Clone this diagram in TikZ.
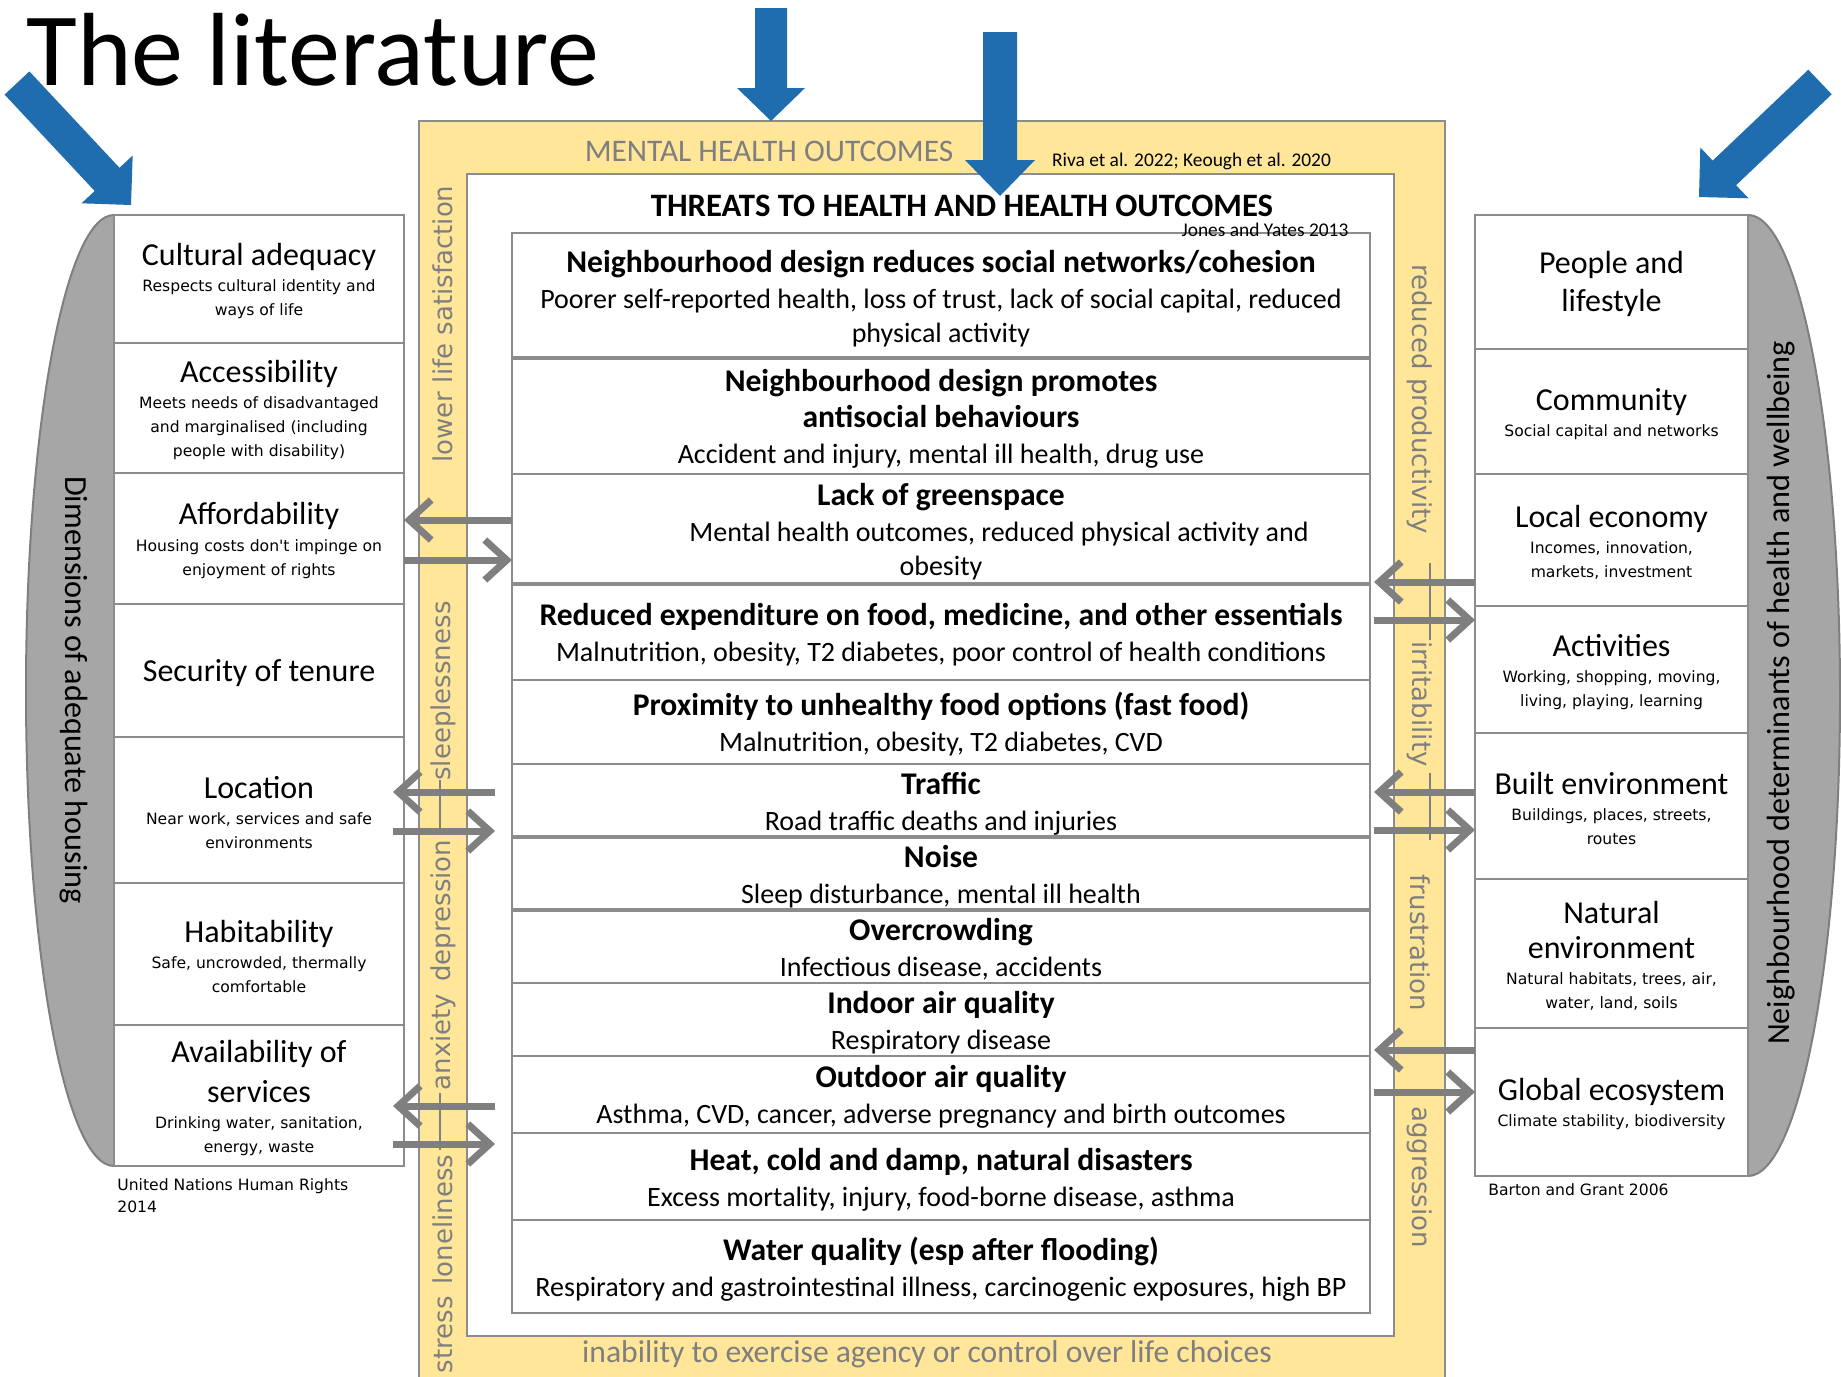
\documentclass[tikz,border=0pt]{standalone}
\usepackage{fontspec}
\setmainfont{Carlito}
\newfontfamily\descfont{DejaVu Sans}
\usetikzlibrary{positioning, arrows.meta}

\definecolor{bandyellow}{RGB}{255,230,153}
\definecolor{linegray}{RGB}{140,140,140}
\definecolor{textgray}{RGB}{127,127,127}
\definecolor{shapegray}{RGB}{166,166,166}
\definecolor{shapeedge}{RGB}{127,127,127}
\definecolor{arrowgray}{RGB}{127,127,127}
\definecolor{arrowblue}{RGB}{31,108,175}

\newcommand\sidehead[1]{{\rmfamily\fontsize{16}{19}\selectfont\rule{0pt}{13.4pt}#1}}
\newcommand\sidetitle[1]{{\rmfamily\fontsize{16}{19}\selectfont #1}}
\newcommand\threathead[1]{{\rmfamily\bfseries\fontsize{15.8}{17}\selectfont\rule{0pt}{14.1pt}#1}}
\newcommand\threattitle[1]{{\rmfamily\bfseries\fontsize{15.8}{17}\selectfont #1}}

\begin{document}
\begin{tikzpicture}[x=0.5pt, y=-0.5pt, node distance=0pt,
    threat/.style={draw=linegray, line width=1pt, fill=white, minimum width=429pt, inner sep=0pt, outer sep=0pt, align=center, font=\fontsize{14}{17}\selectfont},
    side/.style={draw=linegray, line width=1pt, fill=white, minimum width=145pt, inner sep=0pt, outer sep=0pt, align=center, font=\descfont\fontsize{7.8}{12}\selectfont},
    rside/.style={side, minimum width=136.5pt},
    band/.style={text=textgray, font=\descfont\fontsize{13}{15}\selectfont},
    garrow/.style={draw=arrowgray, line width=3.5pt, -{Straight Barb[length=11pt, width=20pt]}},
    bluearrow/.style={fill=arrowblue}]
    \useasboundingbox (0,0) rectangle (1841,1376);
    \clip (0,0) rectangle (1841,1376);

    \draw[linegray, line width=1pt, fill=bandyellow] (419,121) rectangle (1445,1400);
    \draw[linegray, line width=1pt, fill=white] (467,174) rectangle (1394,1336);

    \node[text=textgray, font=\fontsize{15.7}{18}\selectfont] (mho) at (769,151) {MENTAL HEALTH OUTCOMES};
    \node[font=\fontsize{9.7}{11}\selectfont] (riva) at (1191.5,161) {Riva et al. 2022; Keough et al. 2020};
    \node[inner sep=0pt, font=\bfseries\fontsize{16.35}{19}\selectfont] (threats) at (962,206) {THREATS TO HEALTH AND HEALTH OUTCOMES};
    \node[text=textgray, font=\fontsize{15.8}{18}\selectfont] (agency) at (927,1354) {inability to exercise agency or control over life choices};

    \node[band, rotate=90]  (lls)    at (443,324)  {lower life satisfaction};
    \node[band, rotate=90]  (sleep)  at (443,691)  {sleeplessness};
    \node[band, rotate=90]  (anx)    at (443,965)  {anxiety\hspace{6pt}depression};
    \node[band, rotate=90]  (stress) at (443,1264) {stress\hspace{6pt}loneliness};
    \node[band, rotate=-90] (prod)   at (1420,399)  {reduced productivity};
    \node[band, rotate=-90] (irr)    at (1420,704)  {irritability};
    \node[band, rotate=-90] (frus)   at (1420,943)  {frustration};
    \node[band, rotate=-90] (aggr)   at (1420,1177) {aggression};
    \draw[textgray, line width=1pt] (440,780) -- (440,830);
    \draw[textgray, line width=1pt] (440,1093) -- (440,1150);
    \draw[textgray, line width=1pt] (1430,563) -- (1430,640);
    \draw[textgray, line width=1pt] (1430,773) -- (1430,840);

    \node[threat, minimum height=62.75pt] (m1) at (941,295.25)
        {\threathead{Neighbourhood design reduces social networks/cohesion}\\[1pt]
         Poorer self-reported health, loss of trust, lack of social capital, reduced\\ physical activity};
    \node[threat, minimum height=58pt, below=of m1] (m2)
        {\threathead{Neighbourhood design promotes}\\[1pt]\threattitle{antisocial behaviours}\\[1pt]
         Accident and injury, mental ill health, drug use};
    \node[threat, minimum height=54.75pt, below=of m2] (m3)
        {\threathead{Lack of greenspace}\\[1pt]
         \hspace*{58pt}Mental health outcomes, reduced physical activity and\\ obesity};
    \node[threat, minimum height=48.25pt, below=of m3] (m4)
        {\threathead{Reduced expenditure on food, medicine, and other essentials}\\[1pt]
         Malnutrition, obesity, T2 diabetes, poor control of health conditions};
    \node[threat, minimum height=42pt, below=of m4] (m5)
        {\threathead{Proximity to unhealthy food options (fast food)}\\[1pt]
         Malnutrition, obesity, T2 diabetes, CVD};
    \node[threat, minimum height=36.5pt, below=of m5] (m6) {\threathead{Traffic}\\[1pt] Road traffic deaths and injuries};
    \node[threat, minimum height=36.5pt, below=of m6] (m7) {\threathead{Noise}\\[1pt] Sleep disturbance, mental ill health};
    \node[threat, minimum height=36.5pt, below=of m7] (m8) {\threathead{Overcrowding}\\[1pt] Infectious disease, accidents};
    \node[threat, minimum height=36.25pt, below=of m8] (m9) {\threathead{Indoor air quality}\\[1pt] Respiratory disease};
    \node[threat, minimum height=38.75pt, below=of m9] (m10) {\threathead{Outdoor air quality}\\[1pt] Asthma, CVD, cancer, adverse pregnancy and birth outcomes};
    \node[threat, minimum height=43.5pt, below=of m10] (m11) {\threathead{Heat, cold and damp, natural disasters}\\[1pt] Excess mortality, injury, food-borne disease, asthma};
    \node[threat, minimum height=46.5pt, below=of m11] (m12) {\threathead{Water quality (esp after flooding)}\\[1pt] Respiratory and gastrointestinal illness, carcinogenic exposures, high BP};
    \draw[linegray, line width=2pt] (m1.south west) -- (m1.south east);
    \draw[linegray, line width=2pt] (m3.south west) -- (m3.south east);
    \draw[linegray, line width=2pt] (m6.south west) -- (m6.south east);
    \draw[linegray, line width=2pt] (m7.south west) -- (m7.south east);

    \node[inner sep=0pt, font=\fontsize{9.7}{11}\selectfont] (jones) at (1265,230) {Jones and Yates 2013};

    \begin{scope}
        \clip (0,0) rectangle (114,1376);
        \draw[shapeedge, line width=1pt, fill=shapegray] (114,690.5) ellipse [x radius=88, y radius=475.5];
    \end{scope}
    \begin{scope}
        \clip (1748,0) rectangle (1841,1376);
        \draw[shapeedge, line width=1pt, fill=shapegray] (1748,695.5) ellipse [x radius=92, y radius=480.5];
    \end{scope}
    \node[rotate=-90, font=\fontsize{16.1}{19}\selectfont] (dims) at (74,690) {Dimensions of adequate housing};
    \node[rotate=90, font=\fontsize{16.1}{19}\selectfont]  (ndh)  at (1781,693) {Neighbourhood determinants of health and wellbeing};

    \node[side, minimum height=64pt] (l1) at (259,279) {\sidehead{Cultural adequacy}\\[1.2pt] Respects cultural identity and\\ ways of life};
    \node[side, minimum height=65pt, below=of l1] (l2) {\sidehead{Accessibility}\\[1.2pt] Meets needs of disadvantaged\\ and marginalised (including\\ people with disability)};
    \node[side, minimum height=65.25pt, below=of l2] (l3) {\sidehead{Affordability}\\[1.2pt] Housing costs don't impinge on\\ enjoyment of rights};
    \node[side, minimum height=66.75pt, below=of l3] (l4) {\sidehead{Security of tenure}};
    \node[side, minimum height=73pt, below=of l4] (l5) {\sidehead{Location}\\[1.2pt] Near work, services and safe\\ environments};
    \node[side, minimum height=71pt, below=of l5] (l6) {\sidehead{Habitability}\\[1.2pt] Safe, uncrowded, thermally\\ comfortable};
    \node[side, minimum height=70.5pt, below=of l6] (l7) {\sidehead{Availability of}\\[5.5pt]\sidetitle{services}\\[1.2pt] Drinking water, sanitation,\\ energy, waste};

    \node[rside, minimum height=67pt] (r1) at (1611.5,282) {\sidehead{People and}\\[4.2pt]\sidetitle{lifestyle}};
    \node[rside, minimum height=62.5pt, below=of r1] (r2) {\sidehead{Community}\\[1.2pt] Social capital and networks};
    \node[rside, minimum height=66pt, below=of r2] (r3) {\sidehead{Local economy}\\[1.2pt] Incomes, innovation,\\ markets, investment};
    \node[rside, minimum height=63.5pt, below=of r3] (r4) {\sidehead{Activities}\\[1.2pt] Working, shopping, moving,\\ living, playing, learning};
    \node[rside, minimum height=73pt, below=of r4] (r5) {\sidehead{Built environment}\\[1.2pt] Buildings, places, streets,\\ routes};
    \node[rside, minimum height=74.5pt, below=of r5] (r6) {\sidehead{Natural}\\[5.5pt]\sidetitle{environment}\\[1.2pt] Natural habitats, trees, air,\\ water, land, soils};
    \node[rside, minimum height=74pt, below=of r6] (r7) {\sidehead{Global ecosystem}\\[1.2pt] Climate stability, biodiversity};

    \node[anchor=west, align=left, inner sep=0pt, font=\descfont\fontsize{7.8}{11}\selectfont] (unhr) at (117,1196) {United Nations Human Rights\\2014};
    \node[anchor=west, inner sep=0pt, font=\descfont\fontsize{7.8}{11}\selectfont] (bg) at (1488,1190) {Barton and Grant 2006};

    \draw[garrow] (m3.west |- 0,520) -- (l3.east |- 0,520);
    \draw[garrow] (l3.east |- 0,560) -- (m3.west |- 0,560);
    \draw[garrow, shorten <=8.5pt, shorten >=-5.5pt] (m6.west |- 0,792) -- (l5.east |- 0,792);
    \draw[garrow, shorten <=-5.5pt, shorten >=8.5pt] (l5.east |- 0,831) -- (m6.west |- 0,831);
    \draw[garrow, shorten <=8.5pt, shorten >=-5.5pt] (m10.west |- 0,1106) -- (l7.east |- 0,1106);
    \draw[garrow, shorten <=-5.5pt, shorten >=8.5pt] (l7.east |- 0,1144) -- (m10.west |- 0,1144);

    \draw[garrow, shorten >=2pt] (r3.west |- 0,582) -- (m4.east |- 0,582);
    \draw[garrow, shorten <=2pt] (m4.east |- 0,620) -- (r4.west |- 0,620);
    \draw[garrow, shorten >=2pt] (r5.west |- 0,792) -- (m6.east |- 0,792);
    \draw[garrow, shorten <=2pt] (m6.east |- 0,830) -- (r5.west |- 0,830);
    \draw[garrow, shorten >=2pt] (r7.west |- 0,1050) -- (m10.east |- 0,1050);
    \draw[garrow, shorten <=2pt] (m10.east |- 0,1092) -- (r7.west |- 0,1092);

    \node[anchor=base west, inner sep=0pt, font=\fontsize{52}{60}\selectfont] (title) at (26,85) {The literature};

    \fill[bluearrow] (4.6,94.6) -- (94.7,191) -- (81.5,203.3) -- (131,205) -- (132.7,155.5) -- (119.5,167.8) -- (29.4,71.4) -- cycle;
    \fill[bluearrow] (755,8) -- (755,88) -- (737,88) -- (771,121) -- (805,88) -- (787,88) -- (787,8) -- cycle;
    \fill[bluearrow] (983,32) -- (983,160) -- (965,160) -- (1000,196) -- (1035,160) -- (1017,160) -- (1017,32) -- cycle;
    \fill[bluearrow] (1808.3,69.7) -- (1712.7,160.6) -- (1700.3,147.5) -- (1699,197) -- (1748.5,198.3) -- (1736.1,185.2) -- (1831.7,94.3) -- cycle;
\end{tikzpicture}
\end{document}
